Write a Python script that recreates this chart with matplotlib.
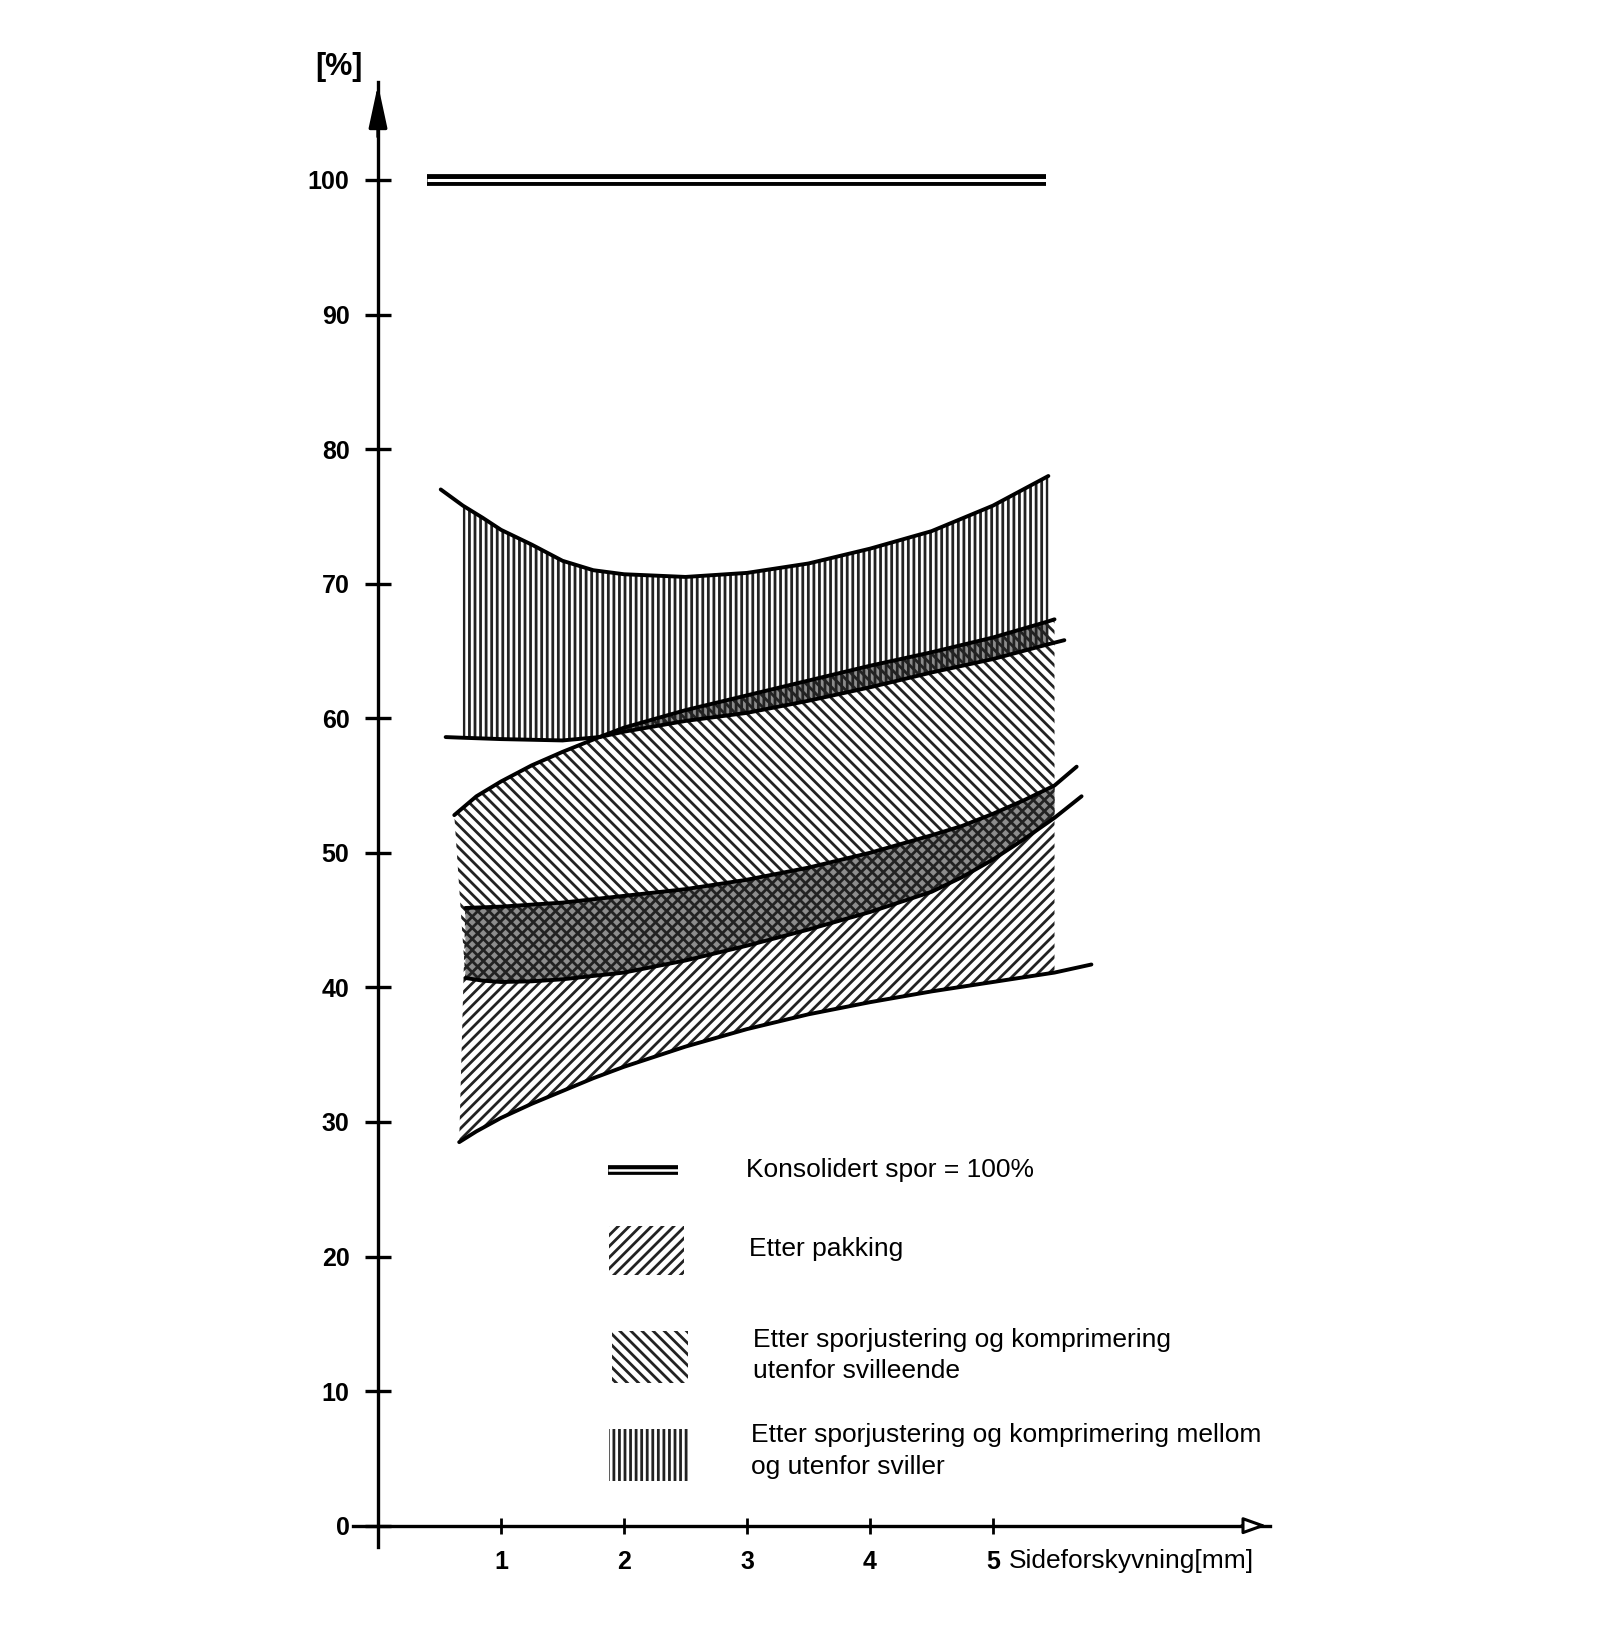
import matplotlib
matplotlib.use('Agg')
import matplotlib.pyplot as plt
from matplotlib.patches import Rectangle

plt.rcParams['hatch.linewidth'] = 2.0

# ---- data (x = sideforskyvning mm, y = %) ----
consolidated_x = [0.40, 5.43]
consolidated_y = [100, 100]

# vertical band (komprimering mellom og utenfor sviller) - upper curve
u1_x = [0.51, 0.69, 0.85, 1.0, 1.25, 1.5, 1.75, 2.0, 2.5, 3.0, 3.5, 4.0, 4.5, 5.0, 5.45]
u1_y = [77.0, 75.8, 74.9, 74.0, 72.9, 71.7, 71.0, 70.7, 70.5, 70.8, 71.5, 72.6, 73.9, 75.8, 78.0]
# vertical band - flat lower line on the left
l1_x = [0.55, 0.69, 1.0, 1.5, 1.8]
l1_y = [58.6, 58.55, 58.45, 58.35, 58.6]
# lower edge of upper dark band / top of diagonal band on the left
b_x = [0.62, 0.8, 1.0, 1.25, 1.5, 1.8, 2.0, 2.5, 3.0, 3.5, 4.0, 4.5, 5.0, 5.45, 5.58]
b_y = [52.8, 54.2, 55.3, 56.5, 57.5, 58.6, 59.0, 59.8, 60.4, 61.3, 62.3, 63.4, 64.4, 65.5, 65.8]
# upper edge of upper dark band
a_x = [1.8, 2.0, 2.5, 3.0, 3.5, 4.0, 4.5, 5.0, 5.45, 5.5]
a_y = [58.6, 59.3, 60.6, 61.7, 62.8, 63.9, 64.9, 66.0, 67.2, 67.35]
# upper edge of lower dark band (top of "Etter pakking")
c_x = [0.71, 1.0, 1.5, 2.0, 2.5, 3.0, 3.5, 4.0, 4.5, 4.75, 5.0, 5.25, 5.5, 5.68]
c_y = [45.9, 46.0, 46.3, 46.8, 47.3, 48.0, 48.9, 50.0, 51.3, 52.0, 52.9, 53.9, 55.0, 56.4]
# lower edge of lower dark band (bottom of svilleende band)
d_x = [0.71, 0.85, 1.0, 1.25, 1.5, 2.0, 2.5, 3.0, 3.5, 4.0, 4.5, 4.75, 5.0, 5.25, 5.5, 5.72]
d_y = [40.7, 40.5, 40.4, 40.45, 40.6, 41.1, 42.0, 43.1, 44.3, 45.6, 47.1, 48.2, 49.5, 51.0, 52.6, 54.2]
# bottom curve of "Etter pakking"
e_x = [0.66, 0.8, 1.0, 1.25, 1.5, 1.75, 2.0, 2.5, 3.0, 3.5, 4.0, 4.5, 5.0, 5.5, 5.8]
e_y = [28.5, 29.3, 30.3, 31.35, 32.3, 33.25, 34.1, 35.6, 36.9, 38.0, 38.9, 39.7, 40.4, 41.1, 41.7]

y_ticks = [0, 10, 20, 30, 40, 50, 60, 70, 80, 90, 100]
x_ticks = [1, 2, 3, 4, 5]

legend_labels = [
    'Konsolidert spor = 100%',
    'Etter pakking',
    'Etter sporjustering og komprimering\nutenfor svilleende',
    'Etter sporjustering og komprimering mellom\nog utenfor sviller',
]

HATCH_COLOR = '#222222'
OVERLAP_GREY = '#8c8c8c'


def part(x, y, lo, hi):
    pts = [(a, b) for a, b in zip(x, y) if lo <= a <= hi]
    return [p[0] for p in pts], [p[1] for p in pts]


def outline(top, bottom):
    xs = list(top[0]) + list(bottom[0])[::-1]
    ys = list(top[1]) + list(bottom[1])[::-1]
    return xs, ys


def band(ax, top, bottom, hatch):
    xs, ys = outline(top, bottom)
    ax.fill(xs, ys, facecolor='none', edgecolor=HATCH_COLOR, hatch=hatch,
            linewidth=0, zorder=1)


fig = plt.figure(figsize=(16, 16.44), dpi=100)
ax = fig.add_axes([0.22088, 0.05888, 0.57272, 0.89142])
ax.set_xlim(-0.2, 7.25)
ax.set_ylim(-1.6, 107.3)

# grey tone where two treatments overlap (scan shows these much darker)
ox, oy = outline(part(a_x, a_y, 1.8, 5.45), part(b_x, b_y, 1.8, 5.45))
ax.fill(ox, oy, facecolor=OVERLAP_GREY, linewidth=0, zorder=0.5)
ox, oy = outline(part(c_x, c_y, 0.71, 5.5), part(d_x, d_y, 0.71, 5.5))
ax.fill(ox, oy, facecolor=OVERLAP_GREY, linewidth=0, zorder=0.5)

# hatched bands
vx1, vy1 = part(l1_x, l1_y, 0.69, 1.8)
vx2, vy2 = part(b_x, b_y, 2.0, 5.45)
band(ax, part(u1_x, u1_y, 0.69, 5.45), (vx1 + vx2, vy1 + vy2), '|||')

tx1, ty1 = part(b_x, b_y, 0.62, 1.8)
tx2, ty2 = part(a_x, a_y, 2.0, 5.5)
band(ax, (tx1 + tx2, ty1 + ty2), part(d_x, d_y, 0.71, 5.5), '\\\\\\')

band(ax, part(c_x, c_y, 0.71, 5.5), part(e_x, e_y, 0.66, 5.5), '///')

# outline curves
for cx, cy in [(u1_x, u1_y), (l1_x, l1_y), (b_x, b_y), (a_x, a_y),
               (c_x, c_y), (d_x, d_y), (e_x, e_y)]:
    ax.plot(cx, cy, color='black', lw=2.8, solid_capstyle='round',
            solid_joinstyle='round', zorder=3)

# 100 % double line
ax.plot(consolidated_x, consolidated_y, color='black', lw=8.5, zorder=3,
        solid_capstyle='butt')
ax.plot(consolidated_x, consolidated_y, color='white', lw=2.2, zorder=4,
        solid_capstyle='butt')

# axes
for s in ['top', 'right']:
    ax.spines[s].set_visible(False)
ax.spines['left'].set_position(('data', 0))
ax.spines['bottom'].set_position(('data', 0))
ax.spines['left'].set_linewidth(2.4)
ax.spines['bottom'].set_linewidth(2.4)

tick_font = ['Liberation Sans', 'DejaVu Sans']
ax.set_yticks(y_ticks)
ax.set_xticks(x_ticks)
ax.set_yticklabels([str(v) for v in y_ticks], fontfamily=tick_font,
                   fontweight='bold', fontsize=18)
ax.set_xticklabels([str(v) for v in x_ticks], fontfamily=tick_font,
                   fontweight='bold', fontsize=18)
ax.tick_params(axis='y', direction='inout', length=19, width=2.4, pad=11)
ax.tick_params(axis='x', direction='inout', length=11, width=2, pad=12)

# arrow heads
ax.annotate('', xy=(0, 107.3), xytext=(0, 103), annotation_clip=False,
            arrowprops=dict(arrowstyle='-|>,head_length=1.3,head_width=0.28',
                            color='black', lw=2.4, mutation_scale=20))
ax.annotate('', xy=(7.25, 0), xytext=(7.0, 0), annotation_clip=False,
            arrowprops=dict(arrowstyle='-|>,head_length=0.7,head_width=0.25',
                            fc='white', ec='black', lw=2.2, mutation_scale=20))

ax.text(-0.32, 108.4, '[%]', fontsize=22, fontweight='bold', ha='center',
        va='center', family=tick_font, clip_on=False)
ax.text(5.13, -2.6, 'Sideforskyvning[mm]', fontsize=19, ha='left',
        va='center', family=tick_font, clip_on=False)

# legend
txt_font = ['Liberation Sans', 'DejaVu Sans']
ax.plot([1.87, 2.44], [26.45, 26.45], color='black', lw=7, solid_capstyle='butt')
ax.plot([1.87, 2.44], [26.45, 26.45], color='white', lw=1.8, solid_capstyle='butt')
ax.add_patch(Rectangle((1.88, 18.6), 0.61, 3.7, facecolor='none',
                       edgecolor=HATCH_COLOR, hatch='///', lw=0))
ax.add_patch(Rectangle((1.90, 10.6), 0.62, 3.9, facecolor='none',
                       edgecolor=HATCH_COLOR, hatch='\\\\\\', lw=0))
ax.add_patch(Rectangle((1.88, 3.3), 0.64, 3.9, facecolor='none',
                       edgecolor=HATCH_COLOR, hatch='|||', lw=0))

ax.text(2.99, 26.4, legend_labels[0], fontsize=19, va='center', family=txt_font)
ax.text(3.02, 20.55, legend_labels[1], fontsize=19, va='center', family=txt_font)
ax.text(3.05, 12.65, legend_labels[2], fontsize=19, va='center',
        linespacing=1.4, family=txt_font)
ax.text(3.03, 5.55, legend_labels[3], fontsize=19, va='center',
        linespacing=1.4, family=txt_font)

fig.savefig('out.png', dpi=100)
